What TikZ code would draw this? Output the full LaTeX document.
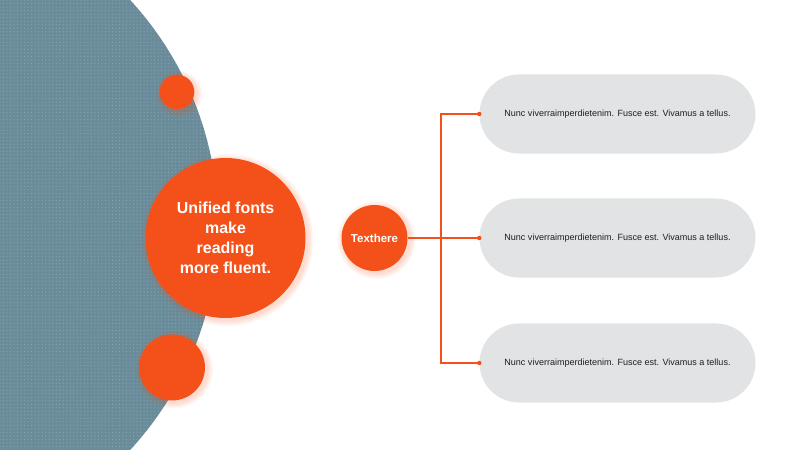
\documentclass[tikz,border=0pt]{standalone}
\usepackage{fontspec}
\setmainfont{Liberation Sans}
\usetikzlibrary{patterns,calc,backgrounds}
\definecolor{SlideBlue}{HTML}{6A8C9A}
\definecolor{SlideDot}{HTML}{89A6B2}
\definecolor{SlideOrange}{HTML}{F4511A}
\definecolor{PillGray}{HTML}{E2E3E4}
\definecolor{PillText}{HTML}{1E1E1E}

\tikzset{
  bubble/.style={circle,fill=SlideOrange,inner sep=0pt,text=white,align=center},
  pill/.style={rectangle,fill=PillGray,minimum width=8.28cm,minimum height=2.37cm,
    rounded corners=1.185cm,text=PillText,font=\fontsize{7.7}{9}\selectfont},
  link/.style={SlideOrange,line width=0.9pt},
  glow/.style={SlideOrange,opacity=0.045}
}

\begin{document}
\begin{tikzpicture}[x=0.03cm,y=-0.03cm]
  \useasboundingbox (0,0) rectangle (800,450);
  % orange bubbles on the left
  \node[bubble,minimum size=1.04cm] (dottop) at (177,92) {};
  \node[bubble,minimum size=4.8cm,font=\fontsize{13.6}{17}\selectfont\bfseries] (main) at (225.5,238)
    {Unified fonts\\make\\reading\\more fluent.};
  \node[bubble,minimum size=1.98cm] (dotbot) at (172,367.5) {};
  \node[bubble,minimum size=1.98cm,font=\fontsize{9.8}{11}\selectfont\bfseries] (hub) at (374.5,238) {Texthere};

  % text pills
  \node[pill] (p1) at (617.5,114) {Nunc viverraimperdietenim. Fusce est. Vivamus a tellus.};
  \node[pill] (p2) at (617.5,238) {Nunc viverraimperdietenim. Fusce est. Vivamus a tellus.};
  \node[pill] (p3) at (617.5,363) {Nunc viverraimperdietenim. Fusce est. Vivamus a tellus.};

  % connectors
  \coordinate (fork) at (441,238);
  \draw[link] (hub.east) -- (p2.west);
  \draw[link] (p1.west) -| (fork) |- (p3.west);
  \foreach \p in {p1,p2,p3}
    \fill[SlideOrange] (\p.west) circle (2.2);

  \begin{scope}[on background layer]
    \clip (0,0) rectangle (800,450);
    \fill[SlideBlue] (-114,225) circle (332);
    \fill[pattern=dots,pattern color=SlideDot] (-114,225) circle (332);
    % soft glow round the bubbles
    \foreach \n/\r in {dottop/17.3,main/80,dotbot/33,hub/33}
      \foreach \k in {1,...,5}
        \fill[glow] ($(\n.center)+(2,2)$) circle (\r+\k*1.2);
  \end{scope}
\end{tikzpicture}
\end{document}
